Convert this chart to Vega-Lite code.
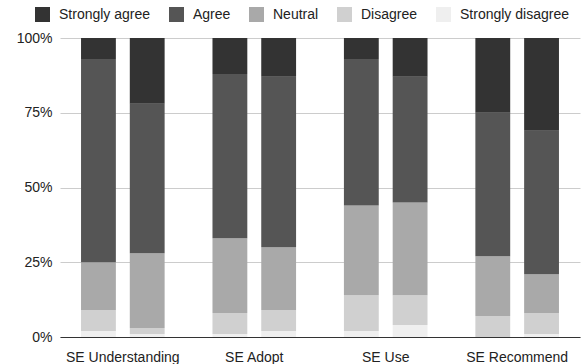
{
  "$schema": "https://vega.github.io/schema/vega-lite/v6.json",
  "width": 520,
  "height": 299,
  "autosize": {"type": "none"},
  "padding": {"left": 60, "top": 38, "right": 5, "bottom": 27},
  "background": "white",
  "data": {
    "values": [
      {"item": "SE Understanding", "bar": 1, "response": "Strongly disagree", "level": 1, "pct": 2},
      {"item": "SE Understanding", "bar": 1, "response": "Disagree", "level": 2, "pct": 7},
      {"item": "SE Understanding", "bar": 1, "response": "Neutral", "level": 3, "pct": 16},
      {"item": "SE Understanding", "bar": 1, "response": "Agree", "level": 4, "pct": 68},
      {"item": "SE Understanding", "bar": 1, "response": "Strongly agree", "level": 5, "pct": 7},
      {"item": "SE Understanding", "bar": 2, "response": "Strongly disagree", "level": 1, "pct": 1},
      {"item": "SE Understanding", "bar": 2, "response": "Disagree", "level": 2, "pct": 2},
      {"item": "SE Understanding", "bar": 2, "response": "Neutral", "level": 3, "pct": 25},
      {"item": "SE Understanding", "bar": 2, "response": "Agree", "level": 4, "pct": 50},
      {"item": "SE Understanding", "bar": 2, "response": "Strongly agree", "level": 5, "pct": 22},
      {"item": "SE Adopt", "bar": 1, "response": "Strongly disagree", "level": 1, "pct": 1},
      {"item": "SE Adopt", "bar": 1, "response": "Disagree", "level": 2, "pct": 7},
      {"item": "SE Adopt", "bar": 1, "response": "Neutral", "level": 3, "pct": 25},
      {"item": "SE Adopt", "bar": 1, "response": "Agree", "level": 4, "pct": 55},
      {"item": "SE Adopt", "bar": 1, "response": "Strongly agree", "level": 5, "pct": 12},
      {"item": "SE Adopt", "bar": 2, "response": "Strongly disagree", "level": 1, "pct": 2},
      {"item": "SE Adopt", "bar": 2, "response": "Disagree", "level": 2, "pct": 7},
      {"item": "SE Adopt", "bar": 2, "response": "Neutral", "level": 3, "pct": 21},
      {"item": "SE Adopt", "bar": 2, "response": "Agree", "level": 4, "pct": 57},
      {"item": "SE Adopt", "bar": 2, "response": "Strongly agree", "level": 5, "pct": 13},
      {"item": "SE Use", "bar": 1, "response": "Strongly disagree", "level": 1, "pct": 2},
      {"item": "SE Use", "bar": 1, "response": "Disagree", "level": 2, "pct": 12},
      {"item": "SE Use", "bar": 1, "response": "Neutral", "level": 3, "pct": 30},
      {"item": "SE Use", "bar": 1, "response": "Agree", "level": 4, "pct": 49},
      {"item": "SE Use", "bar": 1, "response": "Strongly agree", "level": 5, "pct": 7},
      {"item": "SE Use", "bar": 2, "response": "Strongly disagree", "level": 1, "pct": 4},
      {"item": "SE Use", "bar": 2, "response": "Disagree", "level": 2, "pct": 10},
      {"item": "SE Use", "bar": 2, "response": "Neutral", "level": 3, "pct": 31},
      {"item": "SE Use", "bar": 2, "response": "Agree", "level": 4, "pct": 42},
      {"item": "SE Use", "bar": 2, "response": "Strongly agree", "level": 5, "pct": 13},
      {"item": "SE Recommend", "bar": 1, "response": "Strongly disagree", "level": 1, "pct": 0},
      {"item": "SE Recommend", "bar": 1, "response": "Disagree", "level": 2, "pct": 7},
      {"item": "SE Recommend", "bar": 1, "response": "Neutral", "level": 3, "pct": 20},
      {"item": "SE Recommend", "bar": 1, "response": "Agree", "level": 4, "pct": 48},
      {"item": "SE Recommend", "bar": 1, "response": "Strongly agree", "level": 5, "pct": 25},
      {"item": "SE Recommend", "bar": 2, "response": "Strongly disagree", "level": 1, "pct": 1},
      {"item": "SE Recommend", "bar": 2, "response": "Disagree", "level": 2, "pct": 7},
      {"item": "SE Recommend", "bar": 2, "response": "Neutral", "level": 3, "pct": 13},
      {"item": "SE Recommend", "bar": 2, "response": "Agree", "level": 4, "pct": 48},
      {"item": "SE Recommend", "bar": 2, "response": "Strongly agree", "level": 5, "pct": 31}
    ]
  },
  "mark": {"type": "bar", "strokeWidth": 0},
  "encoding": {
    "x": {
      "field": "item",
      "type": "nominal",
      "sort": ["SE Understanding", "SE Adopt", "SE Use", "SE Recommend"],
      "scale": {"paddingInner": 0.364, "paddingOuter": 0.16},
      "axis": {
        "title": null,
        "labelAngle": 0,
        "ticks": false,
        "domain": true,
        "domainColor": "#333333",
        "domainWidth": 1,
        "labelPadding": 13,
        "labelFontSize": 14,
        "labelColor": "#222222",
        "labelFont": "Liberation Sans"
      }
    },
    "xOffset": {
      "field": "bar",
      "type": "nominal",
      "scale": {"paddingInner": 0.2857, "paddingOuter": 0}
    },
    "y": {
      "field": "pct",
      "type": "quantitative",
      "stack": "normalize",
      "scale": {"domain": [0, 1]},
      "axis": {
        "title": null,
        "values": [0, 0.25, 0.5, 0.75, 1],
        "format": ".0%",
        "domain": false,
        "ticks": false,
        "grid": true,
        "gridColor": "#cccccc",
        "gridWidth": 1,
        "labelPadding": 8,
        "labelFontSize": 14,
        "labelColor": "#222222",
        "labelFont": "Liberation Sans"
      }
    },
    "order": {"field": "level", "type": "quantitative", "sort": "ascending"},
    "color": {
      "field": "response",
      "type": "nominal",
      "scale": {
        "domain": ["Strongly agree", "Agree", "Neutral", "Disagree", "Strongly disagree"],
        "range": ["#333333", "#555555", "#a9a9a9", "#d0d0d0", "#efefef"]
      },
      "legend": {
        "title": null,
        "orient": "none",
        "direction": "horizontal",
        "legendX": -25,
        "legendY": -31,
        "padding": 0,
        "symbolType": "square",
        "symbolSize": 225,
        "symbolStrokeWidth": 0,
        "symbolOpacity": 1,
        "labelOffset": 9,
        "columnPadding": 18,
        "labelFontSize": 14,
        "labelColor": "#222222",
        "labelFont": "Liberation Sans"
      }
    }
  },
  "config": {
    "view": {"stroke": null},
    "font": "Liberation Sans"
  }
}
